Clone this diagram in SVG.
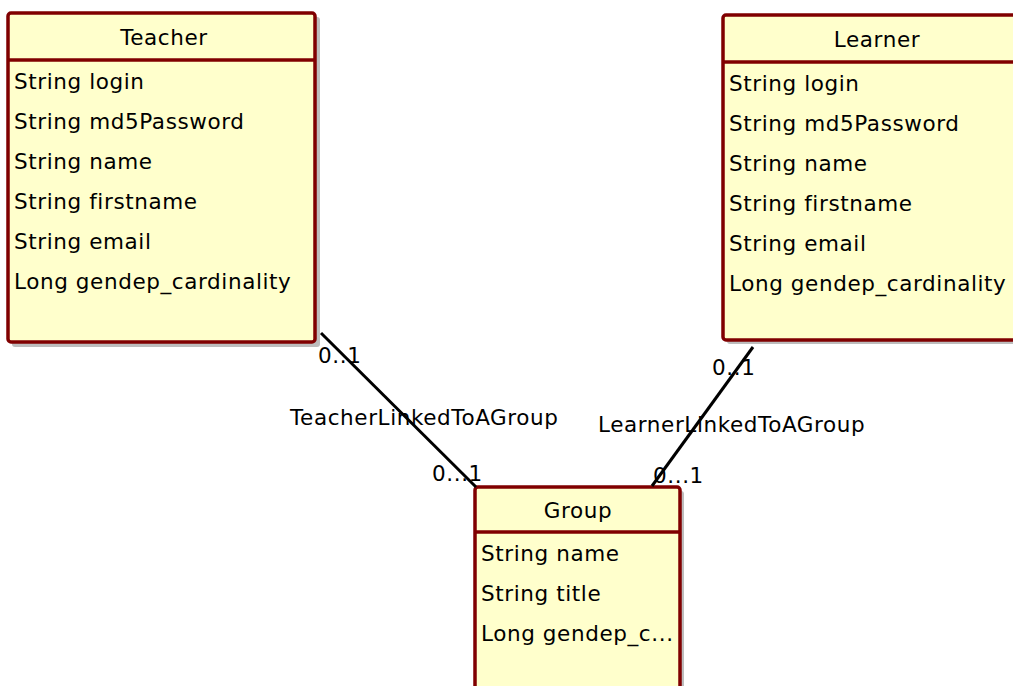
<svg xmlns="http://www.w3.org/2000/svg" width="1013" height="686" viewBox="0 0 1013 686">
<style>
.box{fill:#FFFFCC;stroke:#800000;stroke-width:3.5}
.shadow{fill:#BDBDBD}
.sep{stroke:#800000;stroke-width:3.5}
text{font-family:"DejaVu Sans","Liberation Sans",sans-serif;font-size:21.5px;letter-spacing:0.6px;fill:#000}
.title{text-anchor:middle}
.conn{stroke:#000;stroke-width:3;fill:none}
</style>
<rect width="1013" height="686" fill="#fff"/>
<g id="teacher">
<rect class="shadow" x="12" y="17" width="308" height="330" rx="3"/>
<rect class="box" x="8" y="13" width="307" height="329" rx="3"/>
<line class="sep" x1="8" y1="60" x2="315" y2="60"/>
<text class="title" x="164" y="45">Teacher</text>
<text x="14" y="89">String login</text>
<text x="14" y="129">String md5Password</text>
<text x="14" y="169">String name</text>
<text x="14" y="209">String firstname</text>
<text x="14" y="249">String email</text>
<text x="14" y="289">Long gendep_cardinality</text>
</g>
<g id="learner">
<rect class="shadow" x="727" y="19" width="300" height="325" rx="3"/>
<rect class="box" x="723" y="15" width="300" height="325" rx="3"/>
<line class="sep" x1="723" y1="62" x2="1023" y2="62"/>
<text class="title" x="877" y="47">Learner</text>
<text x="729" y="91">String login</text>
<text x="729" y="131">String md5Password</text>
<text x="729" y="171">String name</text>
<text x="729" y="211">String firstname</text>
<text x="729" y="251">String email</text>
<text x="729" y="291">Long gendep_cardinality</text>
</g>
<g id="group">
<rect class="shadow" x="479" y="491" width="205" height="220" rx="3"/>
<rect class="box" x="475" y="487" width="205" height="220" rx="3"/>
<line class="sep" x1="475" y1="532" x2="680" y2="532"/>
<text class="title" x="578" y="518">Group</text>
<text x="481" y="561">String name</text>
<text x="481" y="601">String title</text>
<text x="481" y="641">Long gendep_c...</text>
</g>
<g id="connectors">
<line class="conn" x1="321" y1="333" x2="476" y2="487"/>
<line class="conn" x1="753" y1="347" x2="652" y2="486"/>
<text x="318" y="363">0..1</text>
<text x="290" y="425">TeacherLinkedToAGroup</text>
<text x="432" y="481">0...1</text>
<text x="712" y="375">0..1</text>
<text x="598" y="432">LearnerLinkedToAGroup</text>
<text x="653" y="483">0...1</text>
</g>
</svg>
